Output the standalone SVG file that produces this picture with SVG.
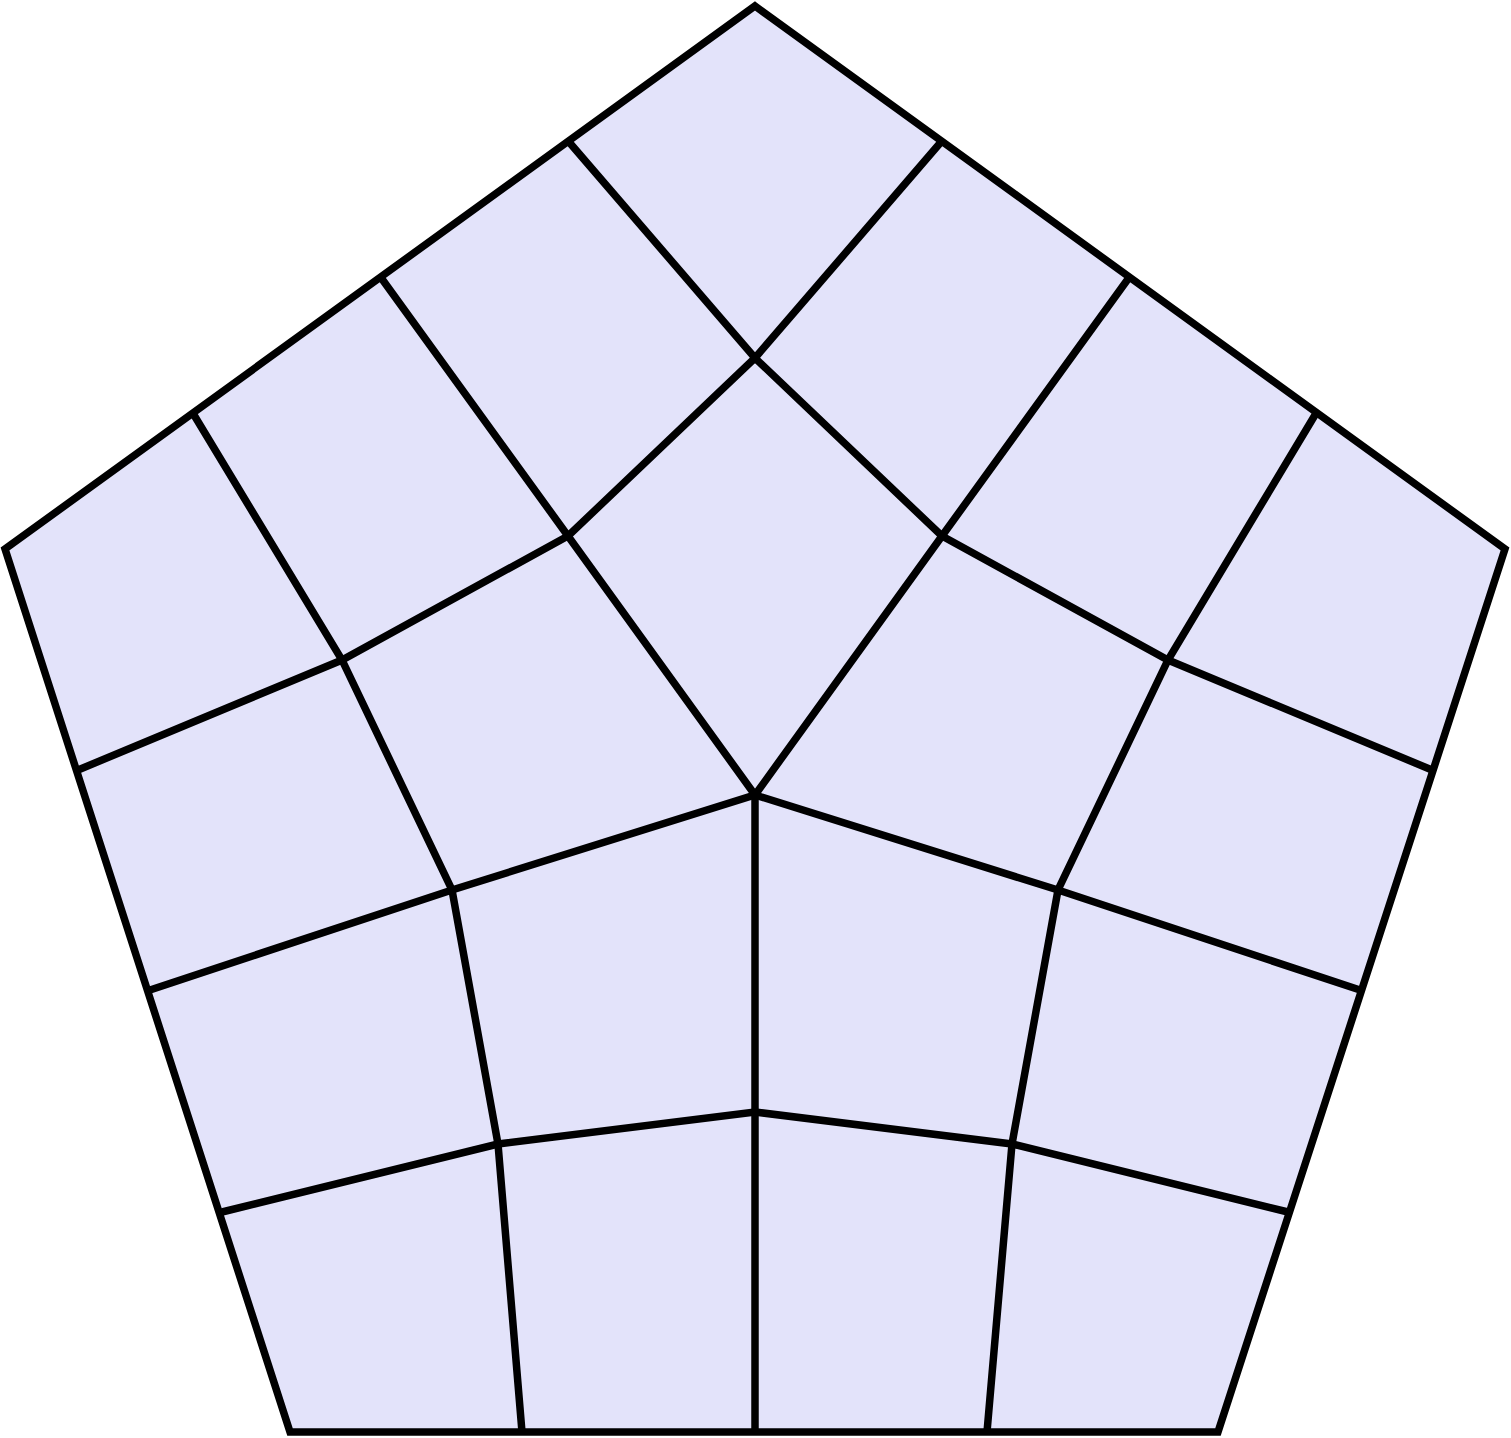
<svg xmlns="http://www.w3.org/2000/svg" width="1511" height="1438" viewBox="0 0 1511 1438">
<style>
.l{fill:none;stroke:#000;stroke-width:7.5;stroke-linejoin:miter;stroke-linecap:butt}
.p{fill:#e3e3fa;stroke:#000;stroke-width:7.5;stroke-linejoin:miter}
</style>
<rect width="1511" height="1438" fill="#fff"/>
<g id="pentagon">
<polygon class="p" points="755,6 1505,549 1218,1432 290,1432 5,549"/>
</g>
<g id="grid">
<polyline class="l" points="569,142 755,358 941,142"/>
<polyline class="l" points="568,536 755,358 942,536"/>
<polyline class="l" points="382,279 568,536 755,795 942,536 1128,279"/>
<polyline class="l" points="194,415 342,660 452,890 498,1144 522,1432"/>
<polyline class="l" points="1315,415 1168,660 1058,890 1012,1144 987,1432"/>
<polyline class="l" points="78,770 342,660 568,536"/>
<polyline class="l" points="1432,770 1168,660 942,536"/>
<polyline class="l" points="150,990 452,890 755,795 1058,890 1360,990"/>
<polyline class="l" points="222,1212 498,1144 755,1112 1012,1144 1288,1212"/>
<line class="l" x1="755" y1="795" x2="755" y2="1432"/>
</g>
</svg>
